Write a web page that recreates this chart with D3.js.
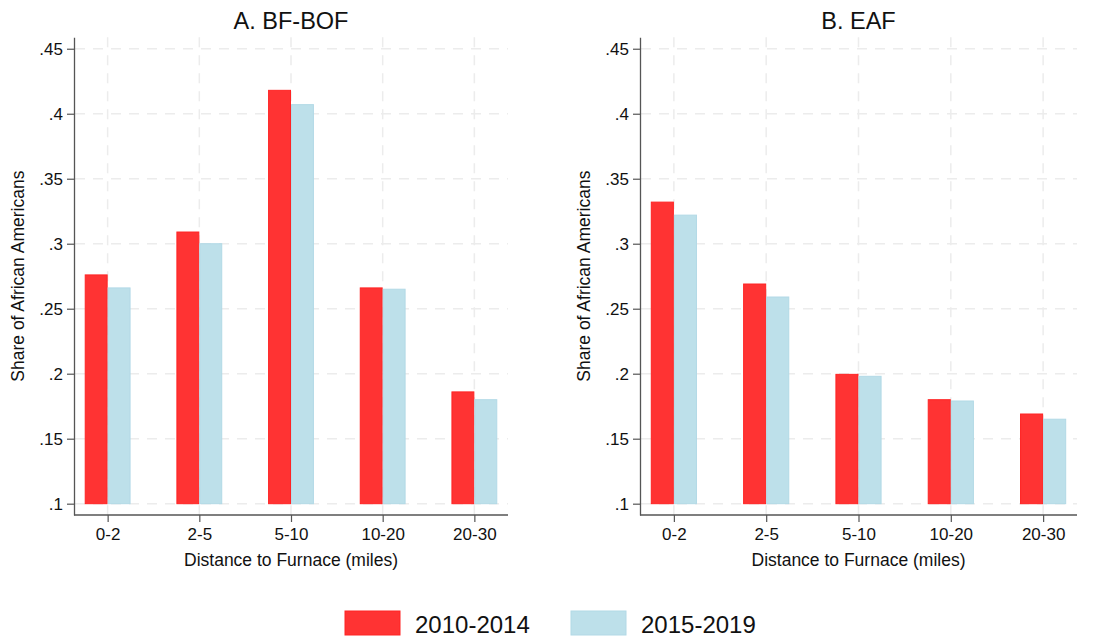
<!DOCTYPE html>
<html>
<head>
<meta charset="utf-8">
<script src="https://cdn.jsdelivr.net/npm/d3@7"></script>
<style>
  html, body { margin: 0; padding: 0; background: #fff; }
  svg { display: block; font-family: Helvetica, Arial, "Liberation Sans", sans-serif; }
</style>
</head>
<body>
<svg id="chart" width="1096" height="639"></svg>
<script>
const categories = ["0-2", "2-5", "5-10", "10-20", "20-30"];
const seriesNames = ["2010-2014", "2015-2019"];
const bfbof2010 = [0.276, 0.309, 0.418, 0.266, 0.186];
const bfbof2015 = [0.266, 0.300, 0.407, 0.265, 0.180];
const eaf2010 = [0.332, 0.269, 0.1995, 0.180, 0.169];
const eaf2015 = [0.322, 0.259, 0.198, 0.179, 0.165];
const yTicks = [0.1, 0.15, 0.2, 0.25, 0.3, 0.35, 0.4, 0.45];
const yTickLabels = [".1", ".15", ".2", ".25", ".3", ".35", ".4", ".45"];
const panelTitles = ["A. BF-BOF", "B. EAF"];
const xTitle = "Distance to Furnace (miles)";
const yTitle = "Share of African Americans";

(function () {
const colors = { fill: ["#ff3333", "#bde0ea"], stroke: ["#ff2424", "#b2d9e6"] };
const FONT = "Helvetica, Arial, 'Liberation Sans', sans-serif";

const svg = d3.select("#chart");
const plotTop = 37.3, plotBottom = 515;
const y = d3.scaleLinear().domain([0.0913, 0.4588]).range([plotBottom, plotTop]);

const panels = [
  { left: 74, right: 508, title: panelTitles[0], data: [bfbof2010, bfbof2015], yTitleX: 18 },
  { left: 640, right: 1077, title: panelTitles[1], data: [eaf2010, eaf2015], yTitleX: 584 }
];

panels.forEach(p => {
  const g = svg.append("g");
  const x = d3.scalePoint().domain(categories).range([p.left, p.right]).padding(0.367);
  const step = x.step();
  const bw = step * 0.25;

  // horizontal grid
  g.append("g").selectAll("line").data(yTicks).join("line")
    .attr("x1", p.left + 1).attr("x2", p.right)
    .attr("y1", d => y(d)).attr("y2", d => y(d))
    .attr("stroke", "#ececec").attr("stroke-width", 1.5)
    .attr("stroke-dasharray", "10,8");
  // vertical grid
  g.append("g").selectAll("line").data(categories).join("line")
    .attr("x1", d => x(d)).attr("x2", d => x(d))
    .attr("y1", plotTop).attr("y2", plotBottom)
    .attr("stroke", "#ececec").attr("stroke-width", 1.5)
    .attr("stroke-dasharray", "10,8");

  // bars
  p.data.forEach((vals, si) => {
    g.append("g").selectAll("rect").data(categories).join("rect")
      .attr("x", d => x(d) - bw + si * bw + 0.5)
      .attr("width", bw - 1)
      .attr("y", (d, i) => y(vals[i]))
      .attr("height", (d, i) => y(0.1) - y(vals[i]))
      .attr("fill", colors.fill[si])
      .attr("stroke", colors.stroke[si])
      .attr("stroke-width", 1);
  });

  // y axis
  const ya = d3.axisLeft(y).tickValues(yTicks)
    .tickFormat((d, i) => yTickLabels[i]).tickSize(7).tickPadding(4).tickSizeOuter(0);
  const yg = g.append("g").attr("transform", `translate(${p.left},0)`).call(ya);
  yg.select(".domain").attr("stroke", "#555").attr("stroke-width", 1.3);
  yg.selectAll(".tick line").attr("stroke", "#555").attr("stroke-width", 1.2);
  yg.selectAll(".tick text").attr("font-size", 17).attr("fill", "#111").attr("font-family", FONT);

  // x axis
  const xa = d3.axisBottom(x).tickSize(7).tickPadding(6).tickSizeOuter(0);
  const xg = g.append("g").attr("transform", `translate(0,${plotBottom})`).call(xa);
  xg.select(".domain").attr("stroke", "#555").attr("stroke-width", 1.3)
    .attr("d", `M${p.left},0H${p.right}`);
  xg.selectAll(".tick line").attr("stroke", "#555").attr("stroke-width", 1.2);
  xg.selectAll(".tick text").attr("font-size", 17).attr("fill", "#111").attr("font-family", FONT);

  // titles
  const cx = (p.left + p.right) / 2;
  g.append("text").attr("x", cx).attr("y", 29).attr("text-anchor", "middle")
    .attr("font-size", 23.5).attr("fill", "#111").text(p.title);
  g.append("text").attr("x", cx).attr("y", 566).attr("text-anchor", "middle")
    .attr("font-size", 17.5).attr("fill", "#111").text(xTitle);
  g.append("text")
    .attr("transform", `translate(${p.yTitleX + 6},${(plotTop + plotBottom) / 2}) rotate(-90)`)
    .attr("text-anchor", "middle").attr("font-size", 17.5).attr("fill", "#111").text(yTitle);
});

// legend
const legendX = [345, 571];
seriesNames.forEach((name, i) => {
  svg.append("rect").attr("x", legendX[i]).attr("y", 611).attr("width", 55).attr("height", 24)
    .attr("fill", colors.fill[i]).attr("stroke", colors.stroke[i]).attr("stroke-width", 1);
  svg.append("text").attr("x", legendX[i] + 70).attr("y", 633)
    .attr("font-size", 24).attr("fill", "#111").text(name);
});
})();
</script>
</body>
</html>
